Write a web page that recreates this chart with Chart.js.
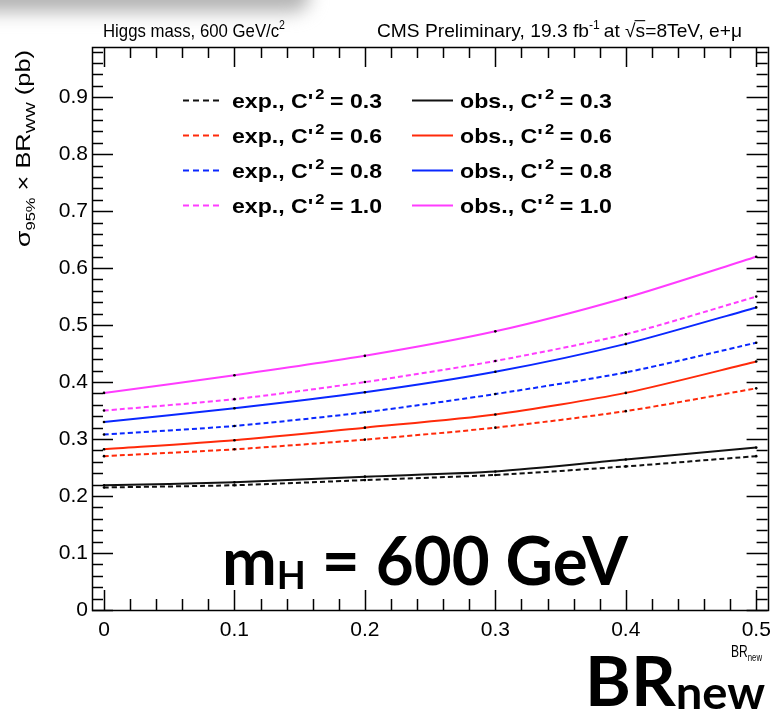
<!DOCTYPE html>
<html>
<head>
<meta charset="utf-8">
<script src="https://cdn.jsdelivr.net/npm/chart.js@4.4.1/dist/chart.umd.min.js"></script>
<style>
  html, body { margin: 0; padding: 0; background: #fff; }
  #wrap { position: relative; width: 779px; height: 717px; overflow: hidden; }
  #shade { position: absolute; left: -40px; top: -22px; width: 350px; height: 34px;
           background: #b4b4b4; filter: blur(9px); border-radius: 0 20px 20px 0; }
  canvas { position: absolute; left: 0; top: 0; }
</style>
</head>
<body>
<div id="wrap"><div id="shade"></div><canvas id="c" width="779" height="717"></canvas></div>
<script>
// Branching ratio to new decays (x) and 95% CL limits on sigma x BR(WW) in pb
const brNew = [0, 0.1, 0.2, 0.3, 0.4, 0.5];
const couplings = ['0.3', '0.6', '0.8', '1.0'];
const colors = ['#111111', '#ff2a0a', '#0a28ff', '#ff3cff'];

const expC03 = [0.215, 0.219, 0.228, 0.237, 0.252, 0.270];
const expC06 = [0.270, 0.282, 0.299, 0.320, 0.349, 0.389];
const expC08 = [0.308, 0.323, 0.347, 0.379, 0.417, 0.469];
const expC10 = [0.350, 0.370, 0.400, 0.437, 0.484, 0.550];

const obsC03 = [0.219, 0.224, 0.234, 0.243, 0.264, 0.285];
const obsC06 = [0.282, 0.298, 0.320, 0.343, 0.381, 0.436];
const obsC08 = [0.330, 0.354, 0.382, 0.418, 0.467, 0.531];
const obsC10 = [0.381, 0.412, 0.446, 0.489, 0.548, 0.620];

const xTicks = [0, 0.1, 0.2, 0.3, 0.4, 0.5];
const yTicks = [0, 0.1, 0.2, 0.3, 0.4, 0.5, 0.6, 0.7, 0.8, 0.9];

const expSeries = [expC03, expC06, expC08, expC10];
const obsSeries = [obsC03, obsC06, obsC08, obsC10];

const SANS = '"Liberation Sans", Arial, Helvetica, sans-serif';
const BIG = 'Lato, "Open Sans", "DejaVu Sans", sans-serif';

function makeSet(kind, idx, values) {
  const dashed = kind === 'exp.';
  return {
    label: kind + ', C\'2 = ' + couplings[idx],
    kind: kind,
    coupling: couplings[idx],
    data: brNew.map((x, i) => ({ x: x, y: values[i] })),
    borderColor: colors[idx],
    backgroundColor: colors[idx],
    borderWidth: 2,
    borderDash: dashed ? [5, 3] : [],
    tension: 0.25,
    pointRadius: 1.3,
    pointHoverRadius: 1.3,
    pointBackgroundColor: '#000',
    pointBorderWidth: 0,
    fill: false
  };
}

const datasets = [];
expSeries.forEach((v, i) => datasets.push(makeSet('exp.', i, v)));
obsSeries.forEach((v, i) => datasets.push(makeSet('obs.', i, v)));

// ---- rich text helper (sub/superscripts, overline) ----
function segFont(s) {
  return (s.w || 'normal') + ' ' + s.size + 'px ' + (s.f || SANS);
}
function richWidth(ctx, segs) {
  let w = 0;
  for (const s of segs) { ctx.font = segFont(s); w += ctx.measureText(s.t).width + (s.gap || 0); }
  return w;
}
function drawRich(ctx, segs, x, y, fitW) {
  const nat = richWidth(ctx, segs);
  const sx = fitW ? fitW / nat : 1;
  ctx.save();
  ctx.translate(x, y);
  ctx.scale(sx, 1);
  ctx.textBaseline = 'alphabetic';
  ctx.textAlign = 'left';
  let cx = 0;
  for (const s of segs) {
    ctx.font = segFont(s);
    const dy = s.dy || 0;
    ctx.fillText(s.t, cx, dy);
    const w = ctx.measureText(s.t).width;
    if (s.over) {
      ctx.lineWidth = 1.1;
      ctx.beginPath();
      ctx.moveTo(cx - 1, dy - s.size * 0.86);
      ctx.lineTo(cx + w, dy - s.size * 0.86);
      ctx.stroke();
    }
    cx += w + (s.gap || 0);
  }
  ctx.restore();
}

// ---- frame, inward ticks and all annotation text ----
const decor = {
  id: 'decor',
  afterDraw(chart) {
    const ctx = chart.ctx, a = chart.chartArea;
    const xs = chart.scales.x, ys = chart.scales.y;
    ctx.save();
    ctx.strokeStyle = '#000';
    ctx.fillStyle = '#000';
    ctx.lineWidth = 1.5;

    // y ticks on both sides
    for (let i = 0; i <= 49; i++) {
      const v = i * 0.02;
      if (v > ys.max) break;
      const p = Math.round(ys.getPixelForValue(v)) + 0.5;
      const len = (i % 5 === 0) ? 21 : 11;
      ctx.beginPath();
      ctx.moveTo(a.left, p); ctx.lineTo(a.left + len, p);
      ctx.moveTo(a.right, p); ctx.lineTo(a.right - len, p);
      ctx.stroke();
    }
    // x ticks on bottom and top
    for (let i = 0; i <= 25; i++) {
      const v = i * 0.02;
      const p = Math.round(xs.getPixelForValue(v)) + 0.5;
      const len = (i % 5 === 0) ? 20 : 11;
      ctx.beginPath();
      ctx.moveTo(p, a.bottom); ctx.lineTo(p, a.bottom - len);
      ctx.moveTo(p, a.top); ctx.lineTo(p, a.top + len);
      ctx.stroke();
    }
    ctx.strokeRect(Math.round(a.left) + 0.5, Math.round(a.top) + 0.5,
                   Math.round(a.right - a.left), Math.round(a.bottom - a.top));

    // header lines
    drawRich(ctx, [
      { t: 'Higgs mass, 600 GeV/c', size: 19 },
      { t: '2', size: 12, dy: -8 }
    ], 103, 37, 182);
    drawRich(ctx, [
      { t: 'CMS Preliminary, 19.3 fb', size: 19 },
      { t: '-1', size: 12, dy: -8, gap: 4 },
      { t: 'at ', size: 19 },
      { t: '\u221A', size: 19 },
      { t: 's', size: 19, over: true },
      { t: '=8TeV, e+\u03BC', size: 19 }
    ], 377, 37, 365);

    // y axis title (rotated)
    ctx.save();
    ctx.translate(30, 247);
    ctx.rotate(-Math.PI / 2);
    drawRich(ctx, [
      { t: '\u03C3', size: 21 },
      { t: '95%', size: 13, dy: 5 },
      { t: ' \u00D7 BR', size: 20 },
      { t: 'WW', size: 13, dy: 5 },
      { t: ' (pb)', size: 20 }
    ], 0, 0, 197);
    ctx.restore();

    // x axis title
    drawRich(ctx, [
      { t: 'BR', size: 17 },
      { t: 'new', size: 11, dy: 4 }
    ], 731, 657, 31);

    // legend, two columns drawn from the datasets
    const rows = [100, 135, 170, 205];
    chart.data.datasets.forEach((d, k) => {
      const col = k < 4 ? 0 : 1;
      const row = k % 4;
      const y = rows[row];
      const x0 = col === 0 ? 183 : 412;
      const x1 = col === 0 ? 223 : 453;
      ctx.save();
      ctx.strokeStyle = d.borderColor;
      ctx.lineWidth = 2;
      ctx.setLineDash(d.borderDash.length ? [6, 4] : []);
      ctx.beginPath();
      ctx.moveTo(x0, y + 0.5); ctx.lineTo(x1, y + 0.5);
      ctx.stroke();
      ctx.restore();
      const tx = col === 0 ? 232 : 460;
      const tw = col === 0 ? 150 : 152;
      drawRich(ctx, [
        { t: d.kind + ', C\'', size: 21, w: 'bold', gap: 2 },
        { t: '2', size: 15, w: 'bold', dy: -9, gap: 5 },
        { t: '= ' + d.coupling, size: 21, w: 'bold' }
      ], tx, y + 8, tw);
    });

    // large annotations
    drawRich(ctx, [
      { t: 'm', size: 66, w: 'bold', f: BIG },
      { t: 'H', size: 38, w: 'bold', f: BIG, dy: 4 },
      { t: ' = 600 GeV', size: 66, w: 'bold', f: BIG }
    ], 222, 585, 406);
    drawRich(ctx, [
      { t: 'BR', size: 68, w: 'bold', f: BIG },
      { t: 'new', size: 46, w: 'bold', f: BIG, dy: 3 }
    ], 585, 706, 180);

    ctx.restore();
  }
};

new Chart(document.getElementById('c'), {
  type: 'line',
  data: { datasets: datasets },
  options: {
    responsive: false,
    animation: false,
    devicePixelRatio: 1,
    layout: { padding: { top: 47, right: 10, left: 0, bottom: 0 } },
    plugins: { legend: { display: false }, tooltip: { enabled: false } },
    scales: {
      x: {
        type: 'linear',
        min: -0.0092,
        max: 0.5087,
        grid: { display: false, drawTicks: false },
        border: { display: false },
        afterFit(scale) { scale.height = 107; },
        afterBuildTicks(scale) { scale.ticks = xTicks.map(v => ({ value: v })); },
        ticks: {
          padding: 8,
          color: '#000',
          font: { family: SANS, size: 21 },
          maxRotation: 0,
          autoSkip: false,
          callback: v => (v === 0 ? '0' : Number(v).toFixed(1))
        }
      },
      y: {
        type: 'linear',
        min: 0,
        max: 0.988,
        grid: { display: false, drawTicks: false },
        border: { display: false },
        afterFit(scale) { scale.width = 92; },
        afterBuildTicks(scale) { scale.ticks = yTicks.map(v => ({ value: v })); },
        ticks: {
          padding: 4,
          color: '#000',
          font: { family: SANS, size: 21 },
          autoSkip: false,
          callback: v => (v === 0 ? '0' : Number(v).toFixed(1))
        }
      }
    }
  },
  plugins: [decor]
});
</script>
</body>
</html>
